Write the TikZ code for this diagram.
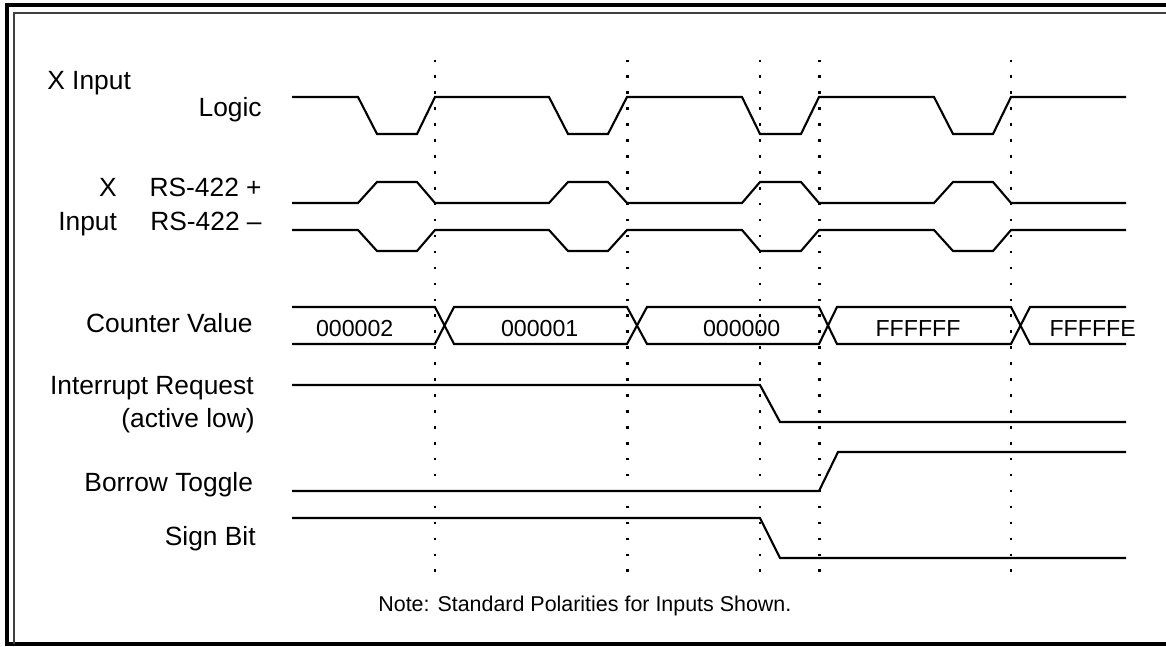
\documentclass[tikz,border=0pt]{standalone}
\usepackage{fontspec}
\setmainfont{Liberation Sans}

\begin{document}
\begin{tikzpicture}[x=0.02cm, y=-0.02cm,
    sig/.style={line width=1.2pt, line join=miter},
    dots/.style={line width=1.45pt, dash pattern=on 1.45pt off 7.62pt},
    lbl/.style={inner sep=0pt, anchor=base east, font=\fontsize{15}{18}\selectfont},
    val/.style={inner sep=0pt, anchor=base, font=\fontsize{13.2}{16}\selectfont}]
    \useasboundingbox (0,0) rectangle (1166,646);
    % frame
    \draw[line width=2.3pt] (7,646)--(7,5.3)--(1166,5.3);
    \draw[line width=2.3pt] (5,644)--(1166,644);
    \draw[line width=1pt, black!75] (13.7,644)--(13.7,12.8)--(1166,12.8);

    % labels
    \node[lbl, anchor=base west] (xin) at (47,89.5) {X Input};
    \node[lbl] (logic) at (262,116.5) {Logic};
    \node[lbl] (xx) at (117,196.5) {X};
    \node[lbl] (rsp) at (262,196.5) {RS-422 +};
    \node[lbl] (inp) at (117.3,230) {Input};
    \node[lbl] (rsm) at (262,230) {RS-422 –};
    \node[lbl] (cnt) at (253,332.5) {Counter Value};
    \node[lbl] (irq) at (254,394.5) {Interrupt Request};
    \node[lbl] (act) at (255,427) {(active low)};
    \node[lbl] (brw) at (253.3,491) {Borrow Toggle};
    \node[lbl] (sgn) at (256,545) {Sign Bit};
    \node[lbl, anchor=base west, font=\fontsize{12.2}{15}\selectfont] (note) at (378,611) {Note: Standard Polarities for Inputs Shown.};

    % dotted time marks
    \draw[dots] (435,59.5)--(435,575);
    \draw[dots] (627.3,59.5)--(627.3,575);
    \draw[dots] (760,59.5)--(760,575);
    \draw[dots] (819.3,59.5)--(819.3,575);
    \draw[dots] (1011,59.5)--(1011,575);

    % X input logic
    \draw[sig] (292,97)--(358,97)--(377,134)--(417,134)--(435,97)--(549,97)--(568,134)--(608,134)--(627,97)
        --(742,97)--(760,134)--(801,134)--(819,97)--(934,97)--(953,134)--(993,134)--(1011,97)--(1126,97);
    % RS-422 +
    \draw[sig] (292,203)--(358,203)--(377,182)--(417,182)--(435,203)--(549,203)--(568,182)--(608,182)--(627,203)
        --(742,203)--(760,182)--(801,182)--(819,203)--(934,203)--(953,182)--(993,182)--(1011,203)--(1126,203);
    % RS-422 -
    \draw[sig] (292,230)--(358,230)--(377,251)--(417,251)--(435,230)--(549,230)--(568,251)--(608,251)--(627,230)
        --(742,230)--(760,251)--(801,251)--(819,230)--(934,230)--(953,251)--(993,251)--(1011,230)--(1126,230);

    % counter value bus
    \draw[sig] (292,307)--(435,307)--(454,344)--(627,344)--(647,307)--(819,307)--(837,344)--(1011,344)--(1030,307)--(1126,307);
    \draw[sig] (292,344)--(435,344)--(454,307)--(627,307)--(647,344)--(819,344)--(837,307)--(1011,307)--(1030,344)--(1126,344);
    \node[val] (cv2) at (354.7,336) {000002};
    \node[val] (cv1) at (539.7,336) {000001};
    \node[val] (cv0) at (741.7,336) {000000};
    \node[val] (cvf) at (918,336) {FFFFFF};
    \node[val] (cve) at (1092.7,336) {FFFFFE};

    % interrupt, borrow, sign
    \draw[sig] (292,385)--(760,385)--(780,422)--(1126,422);
    \draw[sig] (292,491)--(819,491)--(838,452)--(1126,452);
    \draw[sig] (292,518)--(760,518)--(780,558)--(1126,558);
\end{tikzpicture}
\end{document}
